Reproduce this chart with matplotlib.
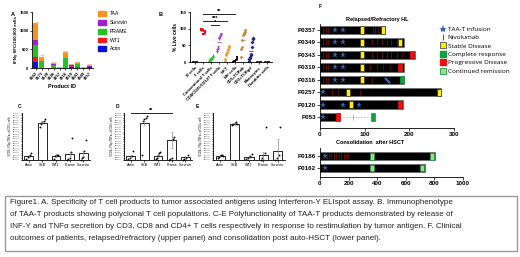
import numpy as np
import matplotlib
matplotlib.use('Agg')
import matplotlib.pyplot as plt
from matplotlib.lines import Line2D
from matplotlib.patches import Patch, Rectangle

plt.rcParams['font.family'] = ['Liberation Sans', 'DejaVu Sans']

W, H = 520, 257


def caja(x0, y0, x1, y1):
    # pixel box -> figure fraction
    return [x0 / W, 1 - y1 / H, (x1 - x0) / W, (y1 - y0) / H]


# ---------------- datos panel A ----------------
productos = ['0162', '0173', '0120', '0186', '0257', '0316', '0319', '0343', '0349', '0357']
sfc_actin = [150, 0, 0, 0, 0, 0, 20, 0, 10, 20]
sfc_wt1 = [140, 10, 0, 0, 0, 0, 10, 20, 0, 0]
sfc_prame = [330, 190, 0, 90, 0, 260, 0, 90, 0, 0]
sfc_survivin = [140, 0, 0, 10, 0, 0, 50, 0, 0, 40]
sfc_taa = [440, 90, 0, 35, 30, 180, 20, 40, 25, 25]
sfc_err = [30, 70, 0, 15, 5, 20, 10, 15, 5, 10]
antigenos_A = ['TAA', 'Survivin', 'PRAME', 'WT1', 'Actin']

# ---------------- datos panel B ----------------
poblaciones = ['B cells', 'T cells', 'Conventional T cells', 'CD4/CD25/CD127 T cells', 'NKT',
               'NK cells', 'CD3+TCRab', 'CD3+TCRgd', 'Monocytes', 'Dendritic cells']
vivas = [
    [0.5, 1, 0.3, 0.8, 1.2, 0.6, 0.4, 0.9, 1.5, 0.7],
    [98, 96, 95, 99, 97, 85, 83, 88, 92],
    [3, 5, 6, 8, 9, 10, 12, 13, 15, 18, 20],
    [30, 35, 40, 45, 70, 73, 75, 78, 80, 85],
    [2, 10, 20, 25, 30, 35, 40, 45, 48],
    [0.5, 1, 2, 3, 4, 5, 8, 15],
    [15, 40, 45, 65, 80, 85, 88, 90, 95],
    [3, 8, 12, 15, 20, 25, 45, 60, 70, 73],
    [0.5, 1, 0.3, 0.8],
    [0.5, 1, 0.7, 0.2],
]

# ---------------- datos paneles C-E ----------------
estimulos = ['Actin', 'SEB', 'WT1', 'Prame', 'Survivin']
media_C = [0.08, 0.79, 0.08, 0.13, 0.14]
sem_C = [0.02, 0.03, 0.02, 0.05, 0.05]
puntos_C = [[0.03, 0.06, 0.08, 0.1, 0.15], [0.7, 0.76, 0.8, 0.84, 0.88], [0.03, 0.08, 0.1, 0.1, 0.1],
            [0.0, 0.03, 0.05, 0.18, 0.47], [0.0, 0.04, 0.07, 0.2, 0.43]]
media_D = [0.08, 0.79, 0.08, 0.42, 0.06]
sem_D = [0.02, 0.05, 0.02, 0.17, 0.02]
puntos_D = [[0.03, 0.05, 0.08, 0.2], [0.1, 0.82, 0.87, 0.9, 0.93], [0.03, 0.05, 0.1, 0.15, 0.16],
            [0.0, 0.02, 0.04, 0.45, 0.5], [0.0, 0.03, 0.05, 0.1]]
media_E = [0.08, 0.77, 0.07, 0.1, 0.2]
sem_E = [0.01, 0.02, 0.02, 0.08, 0.25]
puntos_E = [[0.05, 0.07, 0.08, 0.1, 0.1, 0.09], [0.75, 0.77, 0.78, 0.8, 0.76], [0.03, 0.05, 0.08, 0.12],
            [0.0, 0.05, 0.1, 0.15, 0.7], [0.0, 0.05, 0.1, 0.7]]

# ---------------- datos panel F ----------------
pac_rr = ['P0357', 'P0349', 'P0343', 'P0319', 'P0316', 'P0257', 'P0120', 'P053']
dur_rr = [145, 187, 213, 187, 187, 272, 185, 45]
taa_rr = [[34, 52], [34, 52], [34, 52], [34, 52], [34, 52], [7], [7, 51, 88], [7]]
nivo_rr = [[7, 13, 19, 118, 124, 130], [7, 13, 19, 116, 127, 138, 149, 160, 172],
           [7, 13, 19, 116, 127, 138, 149, 160, 172, 183], [7, 13, 19, 112, 127, 142, 157],
           [7, 13, 19, 116], [26, 41, 90], [], [73]]
sd_rr = [[95, 140], [95, 180], [95], [95], [95], [62, 267], [69], []]
cr_rr = [[], [], [], [], [183], [], [], [118]]
pd_rr = [[], [], [207], [180], [], [], [179], [40]]
seguimiento_p053 = [45, 113]
marca_p0316 = [150]

pac_c = ['P0186', 'P0162']
dur_c = [802, 733]
taa_c = [[35], [35]]
nivo_c = [[46, 63, 80, 97, 114, 131, 148, 165, 182, 198], []]
rem_c = [[367, 784], [367, 716]]

col_A = {'TAA': '#f7931e', 'Survivin': '#a020d0', 'PRAME': '#22c322', 'WT1': '#ee1c1c', 'Actin': '#0a10e0'}
col_B = ['#1030e0', '#e8101c', '#30c030', '#b030d0', '#f0a030', '#101010', '#c08a40', '#1f2a80', '#6a1b6a', '#a01010']
mk_B = ['s', 's', '^', 'v', 'o', 's', 'o', 'D', 's', 's']

fig = plt.figure(figsize=(5.2, 2.57), dpi=100)

def estilo(ax, fs=3):
    ax.spines['top'].set_visible(False)
    ax.spines['right'].set_visible(False)
    for s in ['left', 'bottom']:
        ax.spines[s].set_linewidth(0.6)
    ax.tick_params(labelsize=fs, width=0.5, length=1.5, pad=1)

# ---------------- Panel A ----------------
axA = fig.add_axes(caja(32, 12, 93, 68))
x = np.arange(len(productos))
base = np.zeros(len(productos))
for nombre, vals in [('Actin', sfc_actin), ('WT1', sfc_wt1), ('PRAME', sfc_prame),
                     ('Survivin', sfc_survivin), ('TAA', sfc_taa)]:
    axA.bar(x, vals, bottom=base, width=0.78, color=col_A[nombre])
    base = base + np.array(vals)
axA.errorbar(x, base, yerr=[np.zeros(len(x)), sfc_err], fmt='none', ecolor='#f7b060', elinewidth=0.6, capsize=1.2, capthick=0.5)
axA.set_ylim(0, 1500)
axA.set_yticks([0, 500, 1000, 1500])
axA.set_xlim(-0.6, len(productos) - 0.4)
axA.set_xticks(x)
axA.set_xticklabels(productos, rotation=50, ha='right', rotation_mode='anchor')
estilo(axA, 3)
for t in axA.get_yticklabels() + axA.get_xticklabels():
    t.set_fontweight('bold')
axA.set_ylabel('IFNγ SFC/100,000 cells', fontsize=3.2, fontweight='bold', labelpad=1)
axA.set_xlabel('Product ID', fontsize=4, fontweight='bold', labelpad=2)
manijas = [Patch(color=col_A[n]) for n in antigenos_A]
fig.legend(manijas, antigenos_A, loc='upper left', bbox_to_anchor=(96 / W, 1 - 9 / H), frameon=False,
           fontsize=3.6, handlelength=1.6, handleheight=1.1, labelspacing=0.75, handletextpad=0.8, borderaxespad=0)
fig.text(13 / W, 1 - 14 / H, 'A', fontsize=4, fontweight='bold', ha='center', va='center')

# ---------------- Panel B ----------------
axB = fig.add_axes(caja(190, 12, 272, 62))
for i, vals in enumerate(vivas):
    off = np.linspace(-0.28, 0.28, len(vals))
    axB.scatter(i + off, vals, s=4, marker=mk_B[i], color=col_B[i], linewidths=0, clip_on=False)
    axB.plot([i - 0.25, i + 0.25], [np.mean(vals)] * 2, color=col_B[i], lw=0.5)
axB.set_ylim(0, 150)
axB.set_yticks([0, 50, 100, 150])
axB.set_xlim(-0.6, len(poblaciones) - 0.4)
axB.set_xticks(range(len(poblaciones)))
axB.set_xticklabels(poblaciones, rotation=45, ha='right', rotation_mode='anchor')
estilo(axB, 3)
for t in axB.get_yticklabels() + axB.get_xticklabels():
    t.set_fontweight('bold')
axB.set_ylabel('% Live cells', fontsize=3.5, fontweight='bold', labelpad=1)
for (a, b, yy, txt) in [(1, 5, 143, '**'), (1, 4, 123, '***'), (2, 3, 110, '*')]:
    axB.plot([a, b], [yy, yy], color='k', lw=0.6, clip_on=False)
    axB.text((a + b) / 2, yy + 1, txt, fontsize=4, fontweight='bold', ha='center', va='bottom')
fig.text(161 / W, 1 - 14 / H, 'B', fontsize=4, fontweight='bold', ha='center', va='center')

# ---------------- Paneles C, D, E ----------------
def panel_barras(caja_px, medias, sems, puntos, etiqueta, pos_etq, ylab):
    ax = fig.add_axes(caja(*caja_px))
    xs = np.arange(len(estimulos))
    ax.bar(xs, medias, width=0.65, color='white', edgecolor='k', linewidth=0.6)
    ax.errorbar(xs, medias, yerr=sems, fmt='none', ecolor='#888888', elinewidth=0.5, capsize=1, capthick=0.4)
    for i, pts in enumerate(puntos):
        off = np.linspace(-0.18, 0.18, len(pts))
        ax.scatter(xs[i] + off, pts, s=1.8, color='k', linewidths=0, clip_on=False)
    ax.set_ylim(0, 1.0)
    ax.set_xlim(-0.5, len(estimulos) - 0.5)
    ax.set_xticks(xs)
    ax.set_xticklabels(estimulos)
    ax.set_yticks(np.linspace(0, 1, 21))
    ax.set_yticklabels(['%.5f' % v for v in np.linspace(0, 1, 21)])
    estilo(ax, 2.6)
    ax.tick_params(axis='y', labelsize=1.3, length=0.8)
    ax.set_ylabel(ylab, fontsize=1.8, labelpad=1)
    fig.text(pos_etq[0] / W, 1 - pos_etq[1] / H, etiqueta, fontsize=3.5, fontweight='bold', ha='center', va='center')
    return ax

axC = panel_barras((22, 113, 90, 160), media_C, sem_C, puntos_C, 'C', (20, 106), '%CD3+IFNγ+TNFα+ of CD3+ cells')
axD = panel_barras((124, 113, 192, 160), media_D, sem_D, puntos_D, 'D', (117, 106), '%CD8+IFNγ+TNFα+ of CD8+ cells')
axE = panel_barras((213, 113, 285, 160), media_E, sem_E, puntos_E, 'E', (197, 106), '%CD4+IFNγ+TNFα+ of CD4+ cells')
axD.plot([0, 3], [1.0, 1.0], color='k', lw=0.6, clip_on=False)
axD.text(1.5, 1.01, '**', fontsize=4, fontweight='bold', ha='center', va='bottom')

# ---------------- Panel F ----------------
c_taa = '#3a64a8'
c_nivo = '#e02020'
c_sd = '#ffee00'
c_cr = '#10a040'
c_pd = '#ee1010'
c_rem = '#a8d890'


def filas(ax, pacientes, duraciones):
    ys = np.arange(len(pacientes))
    ax.barh(ys, duraciones, height=0.68, color='black', edgecolor='#666666', linewidth=0.4)
    return ys


def cuadros(ax, y, dias, color, ancho, borde):
    for d in dias:
        ax.barh(y, ancho, left=d - ancho / 2, height=0.58, color=color, edgecolor=borde, linewidth=0.5, zorder=4)


axF1 = fig.add_axes(caja(320, 24, 454, 128))
ys = filas(axF1, pac_rr, dur_rr)
for i in range(len(pac_rr)):
    axF1.plot(nivo_rr[i], [ys[i]] * len(nivo_rr[i]), ls='none', marker='|', ms=4.2, mew=0.6,
              color=c_nivo, alpha=0.5, zorder=3)
    cuadros(axF1, ys[i], sd_rr[i], c_sd, 9, '#333333')
    cuadros(axF1, ys[i], cr_rr[i], c_cr, 9, c_cr)
    cuadros(axF1, ys[i], pd_rr[i], c_pd, 9, c_pd)
    axF1.plot(taa_rr[i], [ys[i]] * len(taa_rr[i]), ls='none', marker='*', ms=5, color=c_taa, mew=0, zorder=5)
i053 = pac_rr.index('P053')
axF1.plot(seguimiento_p053, [ys[i053]] * 2, color='#f0a8a8', lw=0.6, ls=(0, (2, 1.5)), zorder=2)
i316 = pac_rr.index('P0316')
axF1.plot(marca_p0316, [ys[i316]], ls='none', marker=(2, 2, 45), ms=5, mew=1.3, color=c_taa, zorder=5)
axF1.set_xlim(0, 300)
axF1.set_ylim(7.88, -0.48)
axF1.set_xticks([0, 100, 200, 300])
axF1.set_yticks(ys)
axF1.set_yticklabels(pac_rr)
estilo(axF1, 4.5)
for t in axF1.get_yticklabels() + axF1.get_xticklabels():
    t.set_fontweight('bold')
axF1.tick_params(length=2)
fig.text(377 / W, 1 - 20 / H, 'Relapsed/Refractory HL', fontsize=4, fontweight='bold', ha='center', va='center')

axF2 = fig.add_axes(caja(320, 148, 463, 177))
ys2 = filas(axF2, pac_c, dur_c)
for i in range(len(pac_c)):
    axF2.plot(nivo_c[i], [ys2[i]] * len(nivo_c[i]), ls='none', marker='|', ms=4.2, mew=0.6,
              color=c_nivo, alpha=0.5, zorder=3)
    cuadros(axF2, ys2[i], rem_c[i], c_rem, 28, c_cr)
    axF2.plot(taa_c[i], [ys2[i]] * len(taa_c[i]), ls='none', marker='*', ms=5, color=c_taa, mew=0, zorder=5)
axF2.set_xlim(0, 1000)
axF2.set_ylim(1.75, -0.67)
axF2.set_xticks([0, 200, 400, 600, 800, 1000])
axF2.set_yticks(ys2)
axF2.set_yticklabels(pac_c)
estilo(axF2, 4.5)
for t in axF2.get_yticklabels() + axF2.get_xticklabels():
    t.set_fontweight('bold')
axF2.tick_params(length=2)
fig.text(370 / W, 1 - 142 / H, 'Consolidation  after HSCT', fontsize=4, fontweight='bold', ha='center', va='center')
fig.text(320 / W, 1 - 7 / H, 'F', fontsize=3.5, fontweight='bold', ha='center', va='center')

leyenda_F = ['TAA-T infusion', 'Nivolumab', 'Stable Disease', 'Complete response', 'Progressive Disease', 'Continued remission']
manijas_F = [
    Line2D([], [], ls='none', marker='*', ms=6, color=c_taa, mew=0),
    Line2D([], [], ls='none', marker='|', ms=5, mew=0.8, color=c_nivo),
    Line2D([], [], ls='none', marker='s', ms=4, mfc=c_sd, mec='#333333', mew=0.5),
    Line2D([], [], ls='none', marker='s', ms=4, mfc=c_cr, mec=c_cr),
    Line2D([], [], ls='none', marker='s', ms=4, mfc=c_pd, mec=c_pd),
    Line2D([], [], ls='none', marker='s', ms=4, mfc=c_rem, mec=c_cr, mew=0.6),
]
fig.legend(manijas_F, leyenda_F, loc='upper left', bbox_to_anchor=(437 / W, 1 - 24 / H), frameon=False,
           handlelength=1.0, labelspacing=0.45, handletextpad=0.3, borderaxespad=0,
           prop={'family': 'Open Sans', 'size': 4.6})

# ---------------- leyenda de la figura ----------------
fig.patches.append(Rectangle((5 / W, 1 - 251 / H), 512 / W, 55 / H, transform=fig.transFigure,
                             fill=False, edgecolor='#9a9a9a', linewidth=1.0))
lineas = [
    'Figure1. A. Specificity of T cell products to tumor associated antigens using Interferon-Y ELIspot assay. B. Immunophenotype',
    'of TAA-T products showing polyclonal T cell populations. C-E Polyfunctionality of TAA-T products demonstrated by release of',
    'INF-Y and TNFα secretion by CD3, CD8 and CD4+ T cells respectively in response to restimulation by tumor antigen. F. Clinical',
    'outcomes of patients, relapsed/refractory (upper panel) and consolidation post auto-HSCT (lower panel).',
]
for k, l in enumerate(lineas):
    fig.text(10 / W, 1 - (202 + 12 * k) / H, l, fontsize=5.75, ha='left', va='center', color='#222222')

fig.savefig('out.png', dpi=100)
